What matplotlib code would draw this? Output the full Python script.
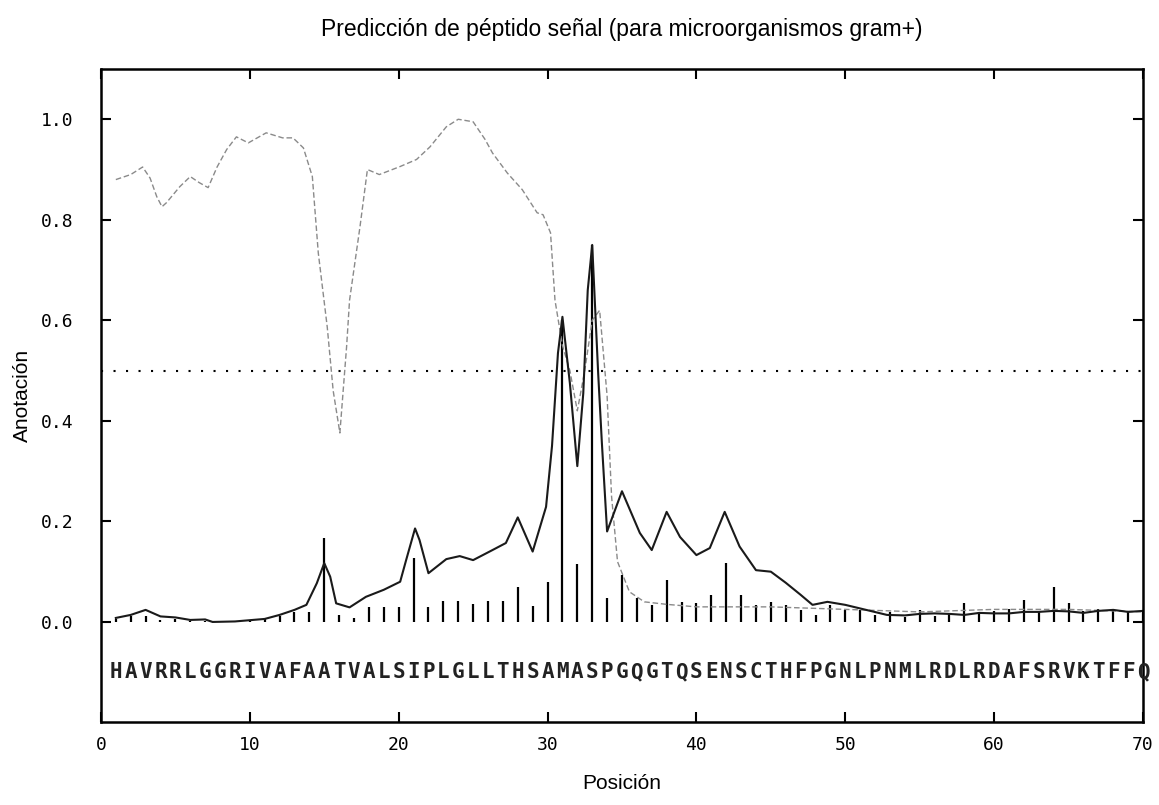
import matplotlib
matplotlib.use("Agg")
import matplotlib.pyplot as plt

# Secuencia (una letra por posición 1..70)
secuencia = "HAVRRLGGRIVAFAATVALSIPLGLLTHSAMASPGQGTQSENSCTHFPGNLPNMLRDLRDAFSRVKTFFQ"
posiciones = list(range(1, 71))

# C-score (barras verticales)
c_score = [0.005, 0.012, 0.012, 0.004, 0.006, 0.002, 0.002, 0.001, 0.001, 0.003,
           0.005, 0.012, 0.019, 0.019, 0.167, 0.014, 0.008, 0.029, 0.029, 0.029,
           0.127, 0.029, 0.042, 0.042, 0.036, 0.042, 0.042, 0.070, 0.032, 0.080,
           0.600, 0.116, 0.750, 0.047, 0.094, 0.047, 0.034, 0.083, 0.040, 0.037,
           0.054, 0.117, 0.054, 0.034, 0.040, 0.034, 0.024, 0.014, 0.034, 0.024,
           0.024, 0.014, 0.020, 0.010, 0.024, 0.012, 0.015, 0.038, 0.020, 0.022,
           0.025, 0.044, 0.020, 0.070, 0.037, 0.022, 0.025, 0.026, 0.020, 0.020]

# S-score (línea gris)
s_x = [1, 2, 2.8, 3.3, 3.75, 4.1, 4.4, 5.3, 6, 6.6, 7.2, 7.8, 8.45, 9.1, 9.9,
       11.1, 12.2, 12.9, 13.6, 14.2, 14.6, 15.2, 15.6, 16.05, 16.5, 16.7, 17.4,
       17.9, 18.7, 20.1, 21.2, 22.1, 23.2, 24, 25, 25.8, 26.3, 27.3, 28.3, 29.3,
       29.7, 30.2, 30.5, 31, 31.5, 32, 32.5, 33, 33.5, 34, 34.3, 34.7, 35.5, 36.5,
       38, 40, 45, 50, 55, 60, 65, 70]
s_y = [0.88, 0.89, 0.905, 0.883, 0.846, 0.826, 0.834, 0.866, 0.886, 0.874, 0.864,
       0.905, 0.94, 0.965, 0.953, 0.973, 0.963, 0.963, 0.943, 0.886, 0.734, 0.587,
       0.46, 0.376, 0.547, 0.64, 0.786, 0.9, 0.89, 0.906, 0.92, 0.945, 0.985, 1.0,
       0.995, 0.96, 0.933, 0.893, 0.86, 0.814, 0.81, 0.774, 0.64, 0.55, 0.5, 0.42,
       0.5, 0.6, 0.62, 0.45, 0.25, 0.12, 0.06, 0.04, 0.035, 0.03, 0.03, 0.025,
       0.02, 0.025, 0.025, 0.02]

# Y-score (línea negra)
y_x = [1, 2, 3, 4, 5, 6, 7, 7.5, 9, 11, 12, 13, 13.8, 14.5, 15, 15.4, 15.8, 16.7,
       17.8, 19, 20.1, 20.5, 21.1, 21.4, 22, 23.2, 24.1, 25, 26.3, 27.2, 28, 29,
       29.9, 30.3, 30.7, 31, 31.5, 32, 32.4, 32.7, 33, 33.4, 33.65, 34, 35, 36.2,
       37, 38, 38.9, 40, 40.9, 41.9, 42.9, 44, 45, 46, 47, 47.8, 48.8, 50, 51.4,
       52.8, 54, 55, 56, 57, 58, 59, 60, 61, 62, 63, 64, 65, 66, 67, 68, 69, 70]
y_y = [0.008, 0.014, 0.024, 0.011, 0.009, 0.004, 0.005, 0.0, 0.001, 0.006, 0.014,
       0.024, 0.034, 0.077, 0.117, 0.09, 0.037, 0.029, 0.05, 0.064, 0.08, 0.123,
       0.186, 0.163, 0.097, 0.125, 0.131, 0.123, 0.143, 0.157, 0.208, 0.14, 0.229,
       0.35, 0.535, 0.607, 0.475, 0.31, 0.455, 0.66, 0.75, 0.495, 0.356, 0.18, 0.26,
       0.177, 0.143, 0.219, 0.169, 0.133, 0.147, 0.219, 0.15, 0.103, 0.1, 0.078,
       0.054, 0.034, 0.04, 0.034, 0.024, 0.014, 0.013, 0.016, 0.017, 0.016, 0.014,
       0.018, 0.017, 0.017, 0.02, 0.02, 0.022, 0.021, 0.018, 0.022, 0.024, 0.02,
       0.022]

umbral = 0.5

fig = plt.figure(figsize=(11.59, 8.05), dpi=100)
ax = fig.add_axes([0.0871, 0.1025, 0.8991, 0.8118])

ax.vlines(posiciones, 0, c_score, colors="black", linewidth=1.6)
ax.plot(s_x, s_y, color="#8a8a8a", linewidth=1.0, linestyle=(0, (4, 2)))
ax.plot(y_x, y_y, color="#1a1a1a", linewidth=1.5)
ax.plot([0, 70], [umbral, umbral], color="black", linewidth=1.5,
        linestyle=(0, (1, 5)))

for pos, letra in zip(posiciones, secuencia):
    ax.text(pos, -0.1, letra, ha="center", va="center", fontsize=15,
            fontweight="bold", family="DejaVu Sans Mono", color="#222222")

ax.set_xlim(0, 70)
ax.set_ylim(-0.2, 1.1)
ax.set_xticks(range(0, 71, 10))
ax.set_yticks([0.0, 0.2, 0.4, 0.6, 0.8, 1.0])
ax.set_yticklabels(["0.0", "0.2", "0.4", "0.6", "0.8", "1.0"])
ax.tick_params(direction="in", length=7, width=1.5, top=True, right=True,
               labelsize=13)
ax.tick_params(axis="y", pad=20)
ax.tick_params(axis="x", pad=10)
for lab in ax.get_xticklabels() + ax.get_yticklabels():
    lab.set_family("DejaVu Sans Mono")
for sp in ax.spines.values():
    sp.set_linewidth(1.8)

ax.set_title("Predicción de péptido señal (para microorganismos gram+)",
             fontsize=16.5, family="Liberation Sans", pad=24)
ax.set_xlabel("Posición", fontsize=15, family="Liberation Sans", labelpad=14)
ax.set_ylabel("Anotación", fontsize=15, family="Liberation Sans", labelpad=6)

fig.savefig("out.png", dpi=100)
